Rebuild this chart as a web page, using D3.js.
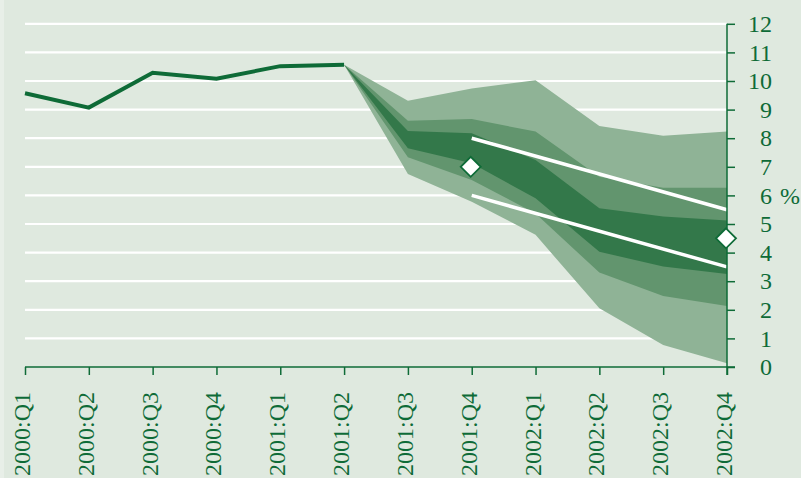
<!DOCTYPE html>
<html>
<head>
<meta charset="utf-8">
<script src="https://cdn.jsdelivr.net/npm/d3@7/dist/d3.min.js"></script>
<style>
  html, body { margin: 0; padding: 0; background: #e8efe8; }
  svg { display: block; }
</style>
</head>
<body>
<svg id="chart" width="801" height="478"></svg>
<script>
// ---- data ----
const categories = ["2000:Q1","2000:Q2","2000:Q3","2000:Q4","2001:Q1","2001:Q2",
                    "2001:Q3","2001:Q4","2002:Q1","2002:Q2","2002:Q3","2002:Q4"];
const historyValues = [9.57, 9.07, 10.29, 10.08, 10.52, 10.57];          // 2000:Q1..2001:Q2
const fanCategories = ["2001:Q2","2001:Q3","2001:Q4","2002:Q1","2002:Q2","2002:Q3","2002:Q4"];
const outerUpper = [10.57, 9.31, 9.74, 10.03, 8.43, 8.09, 8.23];
const outerLower = [10.57, 6.75, 5.78, 4.62, 2.05, 0.77, 0.13];
const midUpper   = [10.57, 8.61, 8.67, 8.23, 6.65, 6.27, 6.27];
const midLower   = [10.57, 7.33, 6.54, 5.37, 3.30, 2.48, 2.13];
const innerUpper = [10.57, 8.25, 8.17, 7.24, 5.55, 5.26, 5.12];
const innerLower = [10.57, 7.65, 7.12, 5.90, 4.03, 3.51, 3.25];
const rangeCategories = ["2001:Q4","2002:Q4"];
const rangeUpper = [8.0, 5.5];
const rangeLower = [6.0, 3.5];
const diamondCategories = ["2001:Q4","2002:Q4"];
const diamondValues = [7.0, 4.5];
const yTicks = [0,1,2,3,4,5,6,7,8,9,10,11,12];

// ---- layout ----
const svg = d3.select("#chart");
const W = 801, H = 478;
const green = "#0e6b37";
const font = "Liberation Serif, Times New Roman, serif";

svg.append("rect").attr("x", 4).attr("y", 0).attr("width", W - 4).attr("height", H).attr("fill", "#dfe9df");

const x = d3.scalePoint().domain(categories).range([25, 727]);
const y = d3.scaleLinear().domain([0, 12]).range([367, 23.8]);

// gridlines
svg.append("g").selectAll("line").data(yTicks.filter(d => d > 0)).join("line")
  .attr("x1", x(categories[0])).attr("x2", x(categories[categories.length - 1]))
  .attr("y1", d => y(d)).attr("y2", d => y(d))
  .attr("stroke", "#ffffff").attr("stroke-width", 2.2);

// fan bands
const bandArea = (up, lo) => d3.area()
  .x((d, i) => x(fanCategories[i]))
  .y0((d, i) => y(lo[i]))
  .y1((d, i) => y(up[i]))(fanCategories);

svg.append("path").attr("d", bandArea(outerUpper, outerLower)).attr("fill", "#8fb396");
svg.append("path").attr("d", bandArea(midUpper, midLower)).attr("fill", "#62956e");
svg.append("path").attr("d", bandArea(innerUpper, innerLower)).attr("fill", "#33784a");

// history line
svg.append("path")
  .attr("d", d3.line().x((d, i) => x(categories[i])).y(d => y(d))(historyValues))
  .attr("fill", "none").attr("stroke", green).attr("stroke-width", 4).attr("stroke-linejoin", "miter");

// range lines
[rangeUpper, rangeLower].forEach(vals => {
  svg.append("path")
    .attr("d", d3.line().x((d, i) => x(rangeCategories[i])).y(d => y(d))(vals))
    .attr("fill", "none").attr("stroke", "#ffffff").attr("stroke-width", 3.5);
});

// axes
const xAxis = d3.axisBottom(x).tickSize(8).tickSizeOuter(0).tickFormat("");
const gx = svg.append("g").attr("transform", `translate(0,${y(0)})`).call(xAxis);
gx.select(".domain").attr("stroke", green).attr("stroke-width", 1.5)
  .attr("d", `M${x(categories[0])},0H${x(categories[categories.length-1]) + 8}`);
gx.selectAll(".tick line").attr("stroke", green).attr("stroke-width", 1.5);

const yAxis = d3.axisRight(y).tickValues(yTicks).tickSize(8).tickSizeOuter(0).tickFormat("");
const gy = svg.append("g").attr("transform", `translate(${x(categories[categories.length-1])},0)`).call(yAxis);
gy.select(".domain").attr("stroke", green).attr("stroke-width", 1.5)
  .attr("d", `M0,${y(12)}V${y(0) + 8}`);
gy.selectAll(".tick line").attr("stroke", green).attr("stroke-width", 1.5);

// y labels
svg.append("g").selectAll("text").data(yTicks).join("text")
  .attr("x", 772).attr("y", d => y(d)).attr("dy", "0.34em")
  .attr("text-anchor", "end").attr("fill", green)
  .style("font-family", font).style("font-size", "24px")
  .text(d => d);
svg.append("text").attr("x", 780).attr("y", y(6)).attr("dy", "0.34em")
  .attr("fill", green).style("font-family", font).style("font-size", "24px").text("%");

// x labels
svg.append("g").selectAll("text").data(categories).join("text")
  .attr("transform", d => `translate(${x(d) + 5},392) rotate(-90)`)
  .attr("text-anchor", "end").attr("fill", green)
  .style("font-family", font).style("font-size", "24px")
  .text(d => d);

// diamonds
svg.append("g").selectAll("path").data(diamondValues).join("path")
  .attr("transform", (d, i) => `translate(${x(diamondCategories[i]) - 1},${y(d)})`)
  .attr("d", "M0,-10L10,0L0,10L-10,0Z")
  .attr("fill", "#ffffff").attr("stroke", green).attr("stroke-width", 1.8);
</script>
</body>
</html>
